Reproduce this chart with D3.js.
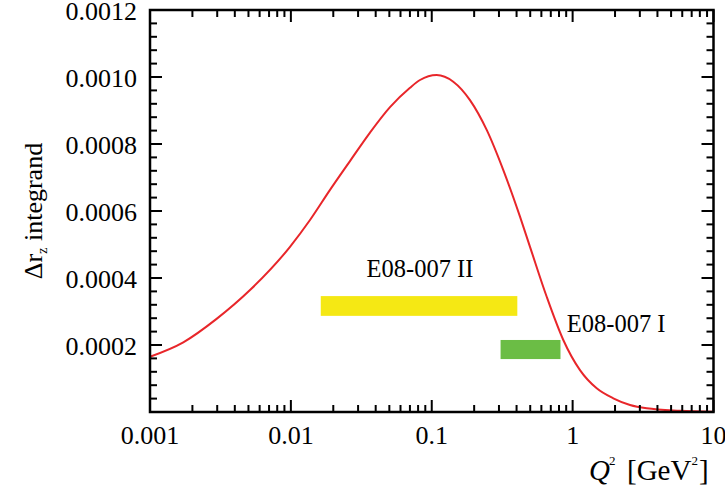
<!DOCTYPE html>
<html>
<head>
<meta charset="utf-8">
<script src="https://cdn.jsdelivr.net/npm/d3@7"></script>
<style>
  html, body { margin: 0; padding: 0; background: #fff; }
  svg { display: block; font-family: "Liberation Serif", "Times New Roman", serif; }
</style>
</head>
<body>
<svg id="chart" width="725" height="486"></svg>
<script>
// ---- Data ----
const qsq = [0.001, 0.001723, 0.00297, 0.005128, 0.009858, 0.01367, 0.01896, 0.02628, 0.03645, 0.05054, 0.07008, 0.08253, 0.1084, 0.1422, 0.1868, 0.2455, 0.3221, 0.4231, 0.4983, 0.6546, 0.8586, 1.128, 1.482, 1.944, 2.555, 3.357, 5.784, 10];
const integrand = [0.000165, 0.000208, 0.000278, 0.000364, 0.000493, 0.000573, 0.000663, 0.000749, 0.000834, 0.000910, 0.000968, 0.000991, 0.001006, 0.000986, 0.000931, 0.000842, 0.000722, 0.000583, 0.000493, 0.000344, 0.000215, 0.000125, 0.0000707, 0.0000409, 0.0000209, 0.000011, 0.0000039, 0.0000009];

const barNames = ["E08-007 II", "E08-007 I"];
const barQmin = [0.0163, 0.308];
const barQmax = [0.405, 0.82];
const barYlow = [0.000287, 0.000158];
const barYhigh = [0.000346, 0.000215];
const barColors = ["#f5e814", "#6bbd45"];
const barLabelQ = [0.0825, 0.91];
const barLabelY = [0.000404, 0.000240];

const xTickValues = [0.001, 0.01, 0.1, 1, 10];
const xTickLabels = ["0.001", "0.01", "0.1", "1", "10"];
const yTickValues = [0.0002, 0.0004, 0.0006, 0.0008, 0.0010, 0.0012];
const yTickLabels = ["0.0002", "0.0004", "0.0006", "0.0008", "0.0010", "0.0012"];

// ---- Layout ----
const svg = d3.select("#chart");
const L = 150, R = 713.5, T = 10, B = 412;
const x = d3.scaleLog().domain([0.001, 10]).range([L, R]);
const y = d3.scaleLinear().domain([0, 0.0012]).range([B, T]);

// bars
svg.append("g").selectAll("rect").data(barNames).join("rect")
  .attr("x", (d, i) => x(barQmin[i]))
  .attr("width", (d, i) => x(barQmax[i]) - x(barQmin[i]))
  .attr("y", (d, i) => y(barYhigh[i]))
  .attr("height", (d, i) => y(barYlow[i]) - y(barYhigh[i]))
  .attr("fill", (d, i) => barColors[i]);

// labels
svg.append("g").selectAll("text").data(barNames).join("text")
  .attr("x", (d, i) => x(barLabelQ[i]))
  .attr("y", (d, i) => y(barLabelY[i]))
  .attr("text-anchor", (d, i) => i === 0 ? "middle" : "start")
  .attr("font-size", 24.5)
  .attr("fill", "#000")
  .text(d => d);

// curve
const pts = qsq.map((q, i) => [q, integrand[i]]);
svg.append("path")
  .datum(pts)
  .attr("fill", "none")
  .attr("stroke", "#e8262a")
  .attr("stroke-width", 2)
  .attr("d", d3.line().x(d => x(d[0])).y(d => y(d[1])).curve(d3.curveMonotoneX));

// ---- Ticks (all four sides, inward) ----
const minorX = [];
for (let e = -3; e < 1; e++) for (let m = 2; m <= 9; m++) minorX.push(m * Math.pow(10, e));
const minorY = d3.range(0, 31).map(k => k * 0.00004).filter(v => Math.abs(v / 0.0002 - Math.round(v / 0.0002)) > 1e-6);

const tk = svg.append("g").attr("stroke", "#000").attr("stroke-width", 2);
function xTicks(vals, len) {
  vals.forEach(v => {
    const px = x(v);
    tk.append("line").attr("x1", px).attr("x2", px).attr("y1", B).attr("y2", B - len);
    tk.append("line").attr("x1", px).attr("x2", px).attr("y1", T).attr("y2", T + len);
  });
}
function yTicks(vals, len) {
  vals.forEach(v => {
    const py = y(v);
    tk.append("line").attr("x1", L).attr("x2", L + len).attr("y1", py).attr("y2", py);
    tk.append("line").attr("x1", R).attr("x2", R - len).attr("y1", py).attr("y2", py);
  });
}
xTicks(xTickValues, 12);
xTicks(minorX, 7);
yTicks(yTickValues, 12);
yTicks(minorY, 7);

// frame
svg.append("rect").attr("x", L).attr("y", T).attr("width", R - L).attr("height", B - T)
  .attr("fill", "none").attr("stroke", "#000").attr("stroke-width", 2.5);

// tick labels
svg.append("g").selectAll("text").data(xTickValues).join("text")
  .attr("x", d => x(d)).attr("y", 444)
  .attr("text-anchor", "middle").attr("font-size", 26)
  .text((d, i) => xTickLabels[i]);
svg.append("g").selectAll("text").data(yTickValues).join("text")
  .attr("x", 137).attr("y", d => y(d) + 9.5)
  .attr("text-anchor", "end").attr("font-size", 26)
  .text((d, i) => yTickLabels[i]);

// axis titles
const xt = svg.append("text").attr("y", 480).attr("font-size", 29);
xt.append("tspan").attr("x", 589).attr("font-style", "italic").text("Q");
xt.append("tspan").attr("x", 609).attr("font-size", 13).attr("dy", -15).text("2");
xt.append("tspan").attr("x", 627).attr("dy", 15).text("[GeV");
xt.append("tspan").attr("font-size", 13).attr("dy", -15).text("2");
xt.append("tspan").attr("dy", 15).attr("dx", 1).text("]");

const yt = svg.append("text").attr("transform", "translate(42,211) rotate(-90)")
  .attr("text-anchor", "middle").attr("font-size", 26);
yt.append("tspan").text("Δr");
yt.append("tspan").attr("font-size", 14).attr("dy", 5).text("z");
yt.append("tspan").attr("dy", -5).text(" integrand");
</script>
</body>
</html>
